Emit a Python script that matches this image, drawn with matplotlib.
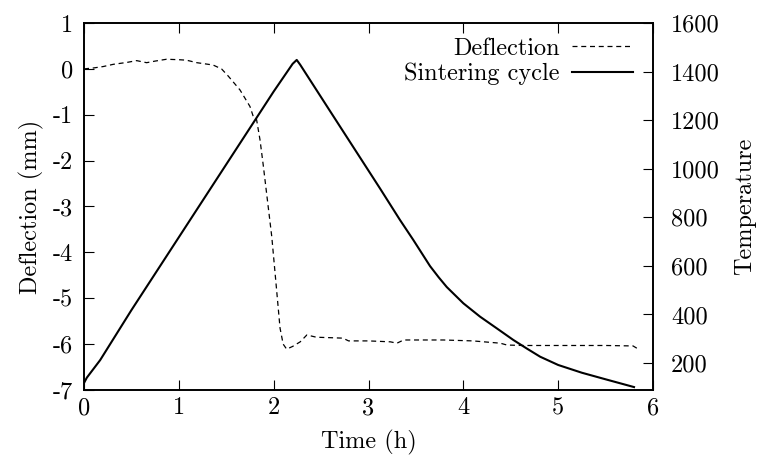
import matplotlib
matplotlib.use("Agg")
import matplotlib.pyplot as plt

plt.rcParams['font.family'] = ['cmr10', 'DejaVu Serif']
plt.rcParams['axes.formatter.use_mathtext'] = True
plt.rcParams['axes.unicode_minus'] = False

# Sintering cycle (temperature, right axis)
temp_time = [0.0, 0.03, 0.17, 0.5, 1.0, 1.5, 2.0, 2.2, 2.243, 2.28, 2.6, 3.121, 3.332,
             3.472, 3.649, 3.74, 3.825, 4.0, 4.176, 4.352, 4.527, 4.668, 4.81, 5.0, 5.25,
             5.5, 5.8]
temp_vals = [118, 140, 212, 418, 718, 1018, 1318, 1432, 1448, 1428, 1234, 919, 789,
             707, 599, 553, 513, 446, 391, 343, 295, 260, 226, 192, 160, 133, 101]

# Deflection (left axis)
defl_time = [0.0, 0.1, 0.2, 0.31, 0.45, 0.555, 0.66, 0.75, 0.87, 1.0, 1.08, 1.19, 1.36,
             1.45, 1.52, 1.645, 1.75, 1.785, 1.82, 1.856, 1.89, 1.98, 2.03, 2.067, 2.1,
             2.137, 2.2, 2.28, 2.35, 2.45, 2.6, 2.73, 2.79, 3.0, 3.23, 3.30, 3.37, 3.79,
             4.1, 4.39, 4.46, 4.63, 5.0, 5.5, 5.79, 5.83]
defl_vals = [0.0, 0.02, 0.05, 0.10, 0.14, 0.18, 0.135, 0.17, 0.21, 0.2, 0.19, 0.135, 0.085,
             0.0, -0.155, -0.46, -0.82, -1.04, -1.11, -1.55, -2.1, -3.66, -4.8, -5.65, -6.0,
             -6.11, -6.05, -5.95, -5.80, -5.85, -5.86, -5.87, -5.93, -5.93, -5.95, -5.98,
             -5.91, -5.91, -5.93, -5.98, -6.02, -6.03, -6.03, -6.03, -6.04, -6.09]

x_ticks = [0, 1, 2, 3, 4, 5, 6]
y_ticks = [1, 0, -1, -2, -3, -4, -5, -6, -7]
y2_ticks = [200, 400, 600, 800, 1000, 1200, 1400, 1600]

fs = 17.5
fig = plt.figure(figsize=(7.57, 4.63), dpi=100)
ax = fig.add_axes([0.111, 0.1577, 0.7516, 0.7926])
ax2 = ax.twinx()

l1, = ax.plot(defl_time, defl_vals, color='black', lw=0.9, ls=(0, (4, 3)))
l2, = ax2.plot(temp_time, temp_vals, color='black', lw=1.5)

ax.set_xlim(0, 6)
ax.set_ylim(-7, 1)
ax2.set_ylim(89, 1600)

ax.set_xticks(x_ticks)
ax.set_xticklabels([str(v) for v in x_ticks], fontsize=fs)
ax.set_yticks(y_ticks)
ax.set_yticklabels([str(v) for v in y_ticks], fontsize=fs)
ax2.set_yticks(y2_ticks)
ax2.set_yticklabels([str(v) for v in y2_ticks], fontsize=fs)

ax.tick_params(axis='x', direction='in', length=7, width=0.8, top=True, pad=5)
ax.tick_params(axis='y', direction='in', length=7, width=0.8, right=False, pad=8)
ax2.tick_params(axis='y', direction='in', length=7, width=0.8, pad=13)

for a in (ax, ax2):
    for s in a.spines.values():
        s.set_linewidth(1.2)

ax.set_xlabel('Time (h)', fontsize=fs, labelpad=8)
ax.set_ylabel('Deflection (mm)', fontsize=fs, labelpad=6)
ax2.set_ylabel('Temperature', fontsize=fs, labelpad=10)

leg = ax.legend([l1, l2], ['Deflection', 'Sintering cycle'], loc='upper right',
                bbox_to_anchor=(0.99, 1.0), frameon=False, fontsize=fs,
                markerfirst=False, handlelength=2.5, handletextpad=0.5,
                labelspacing=0.12, borderaxespad=0.2)
for t in leg.get_texts():
    t.set_ha('right')

fig.savefig('out.png', dpi=100)
